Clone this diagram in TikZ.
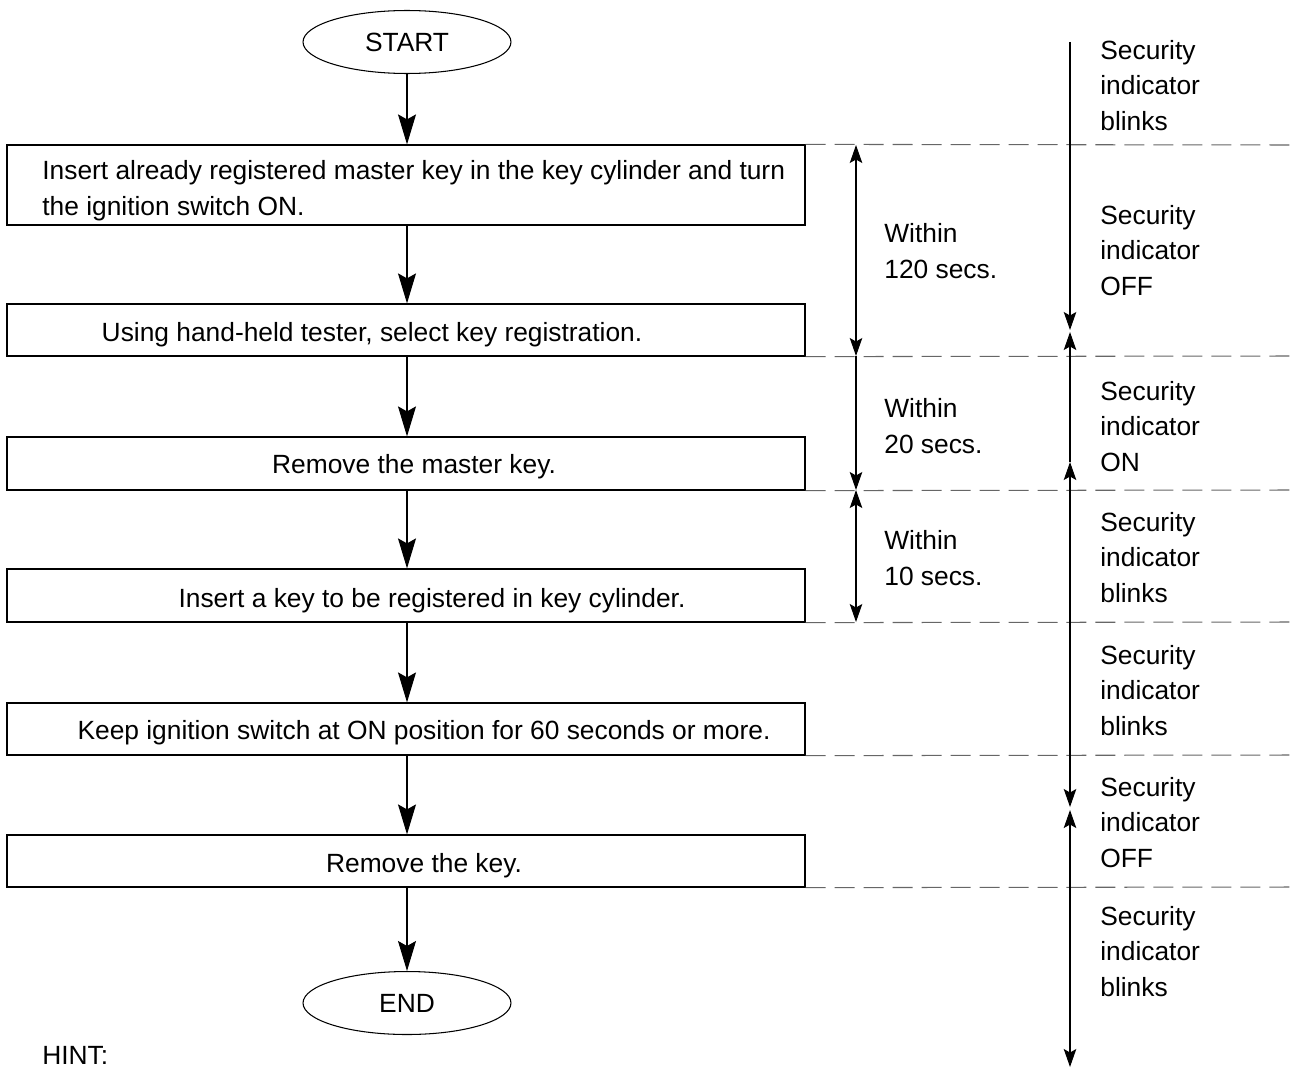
\documentclass[tikz,border=0pt]{standalone}
\usepackage{fontspec}
\setmainfont{Liberation Sans}
\usetikzlibrary{shapes.geometric,arrows.meta}
\tikzset{ttip/.tip={Stealth[length=3.6mm,width=2.5mm,inset=0.7mm]}}
\begin{document}
\begin{tikzpicture}[x=0.02cm,y=-0.02cm,
  every node/.style={font=\fontsize{15}{20.1}\selectfont},
  terminal/.style={draw,ellipse,line width=0.6pt,minimum width=4.16cm,minimum height=1.26cm,inner sep=0pt},
  stepbox/.style={draw,line width=0.7pt,minimum width=15.96cm,inner sep=0pt},
  txt/.style={anchor=base,inner sep=0pt},
  ltxt/.style={anchor=base west,inner sep=0pt,align=left},
  flow/.style={line width=0.6pt,-{Stealth[length=6mm,width=3.6mm,inset=1mm]}},
  tarrow/.style={line width=0.6pt},
  sep/.style={black!60,line width=0.6pt,dash pattern=on 0.4cm off 0.18cm}]
\useasboundingbox (0,0) rectangle (1293,1068);

% flow nodes
\node[terminal] (start) at (407,42) {START};
\node[stepbox,minimum height=1.6cm] (b1) at (406,185) {};
\node[stepbox,minimum height=1.04cm] (b2) at (406,330) {};
\node[stepbox,minimum height=1.06cm] (b3) at (406,463.5) {};
\node[stepbox,minimum height=1.06cm] (b4) at (406,595.5) {};
\node[stepbox,minimum height=1.04cm] (b5) at (406,729) {};
\node[stepbox,minimum height=1.04cm] (b6) at (406,861) {};
\node[terminal] (end) at (407,1003) {END};

% box texts
\node[ltxt] (t1) at (42,215) {Insert already registered master key in the key cylinder and turn\\the ignition switch ON.};
\node[txt] (t2) at (372,341) {Using hand-held tester, select key registration.};
\node[txt] (t3) at (414,473) {Remove the master key.};
\node[txt] (t4) at (432,607) {Insert a key to be registered in key cylinder.};
\node[txt] (t5) at (424,739) {Keep ignition switch at ON position for 60 seconds or more.};
\node[txt] (t6) at (424,872) {Remove the key.};
\node[ltxt] (hint) at (42,1064) {HINT:};

% flow arrows
\draw[flow] (start) -- (start |- b1.north);
\draw[flow] (b1.south -| start) -- (b2.north -| start);
\draw[flow] (b2.south -| start) -- (b3.north -| start);
\draw[flow] (b3.south -| start) -- (b4.north -| start);
\draw[flow] (b4.south -| start) -- (b5.north -| start);
\draw[flow] (b5.south -| start) -- (b6.north -| start);
\draw[flow] (b6.south -| start) -- (end);

% dashed separators
\coordinate (d1) at (1293,145);
\coordinate (d2) at (1293,356);
\coordinate (d3) at (1293,490);
\coordinate (d4) at (1293,622);
\coordinate (d5) at (1293,755);
\coordinate (d6) at (1293,887);
\draw[sep] (b1.north east) -- (d1);
\draw[sep] (b2.south east) -- (d2);
\draw[sep] (b3.south east) -- (d3);
\draw[sep] (b4.south east) -- (d4);
\draw[sep] (b5.south east) -- (d5);
\draw[sep] (b6.south east) -- (d6);

% time intervals
\coordinate (m1) at (856,145);
\coordinate (m2) at (856,356);
\coordinate (m3) at (856,490);
\coordinate (m4) at (856,622);
\draw[tarrow,{ttip}-{ttip}] (m1) -- (m2);
\draw[tarrow,-{ttip}] (m2) -- (m3);
\draw[tarrow,{ttip}-{ttip}] (m3) -- (m4);
\node[ltxt] (w1) at (884,278) {Within\\120 secs.};
\node[ltxt] (w2) at (884,453) {Within\\20 secs.};
\node[ltxt] (w3) at (884,585) {Within\\10 secs.};

% indicator time line
\coordinate (r0) at (1070,42);
\coordinate (r1) at (1070,330);
\coordinate (r2) at (1070,332);
\coordinate (r3) at (1070,462);
\coordinate (r4) at (1070,807);
\coordinate (r5) at (1070,810);
\coordinate (r6) at (1070,1067);
\draw[tarrow,-{ttip}] (r0) -- (r1);
\draw[tarrow,-{ttip}] (r3) -- (r2);
\draw[tarrow,{ttip}-{ttip}] (r3) -- (r4);
\draw[tarrow,{ttip}-{ttip}] (r5) -- (r6);

% indicator labels
\node[ltxt] (s1) at (1100,130) {Security\\indicator\\blinks};
\node[ltxt] (s2) at (1100,295) {Security\\indicator\\OFF};
\node[ltxt] (s3) at (1100,471) {Security\\indicator\\ON};
\node[ltxt] (s4) at (1100,602) {Security\\indicator\\blinks};
\node[ltxt] (s5) at (1100,735) {Security\\indicator\\blinks};
\node[ltxt] (s6) at (1100,867) {Security\\indicator\\OFF};
\node[ltxt] (s7) at (1100,996) {Security\\indicator\\blinks};
\end{tikzpicture}
\end{document}
